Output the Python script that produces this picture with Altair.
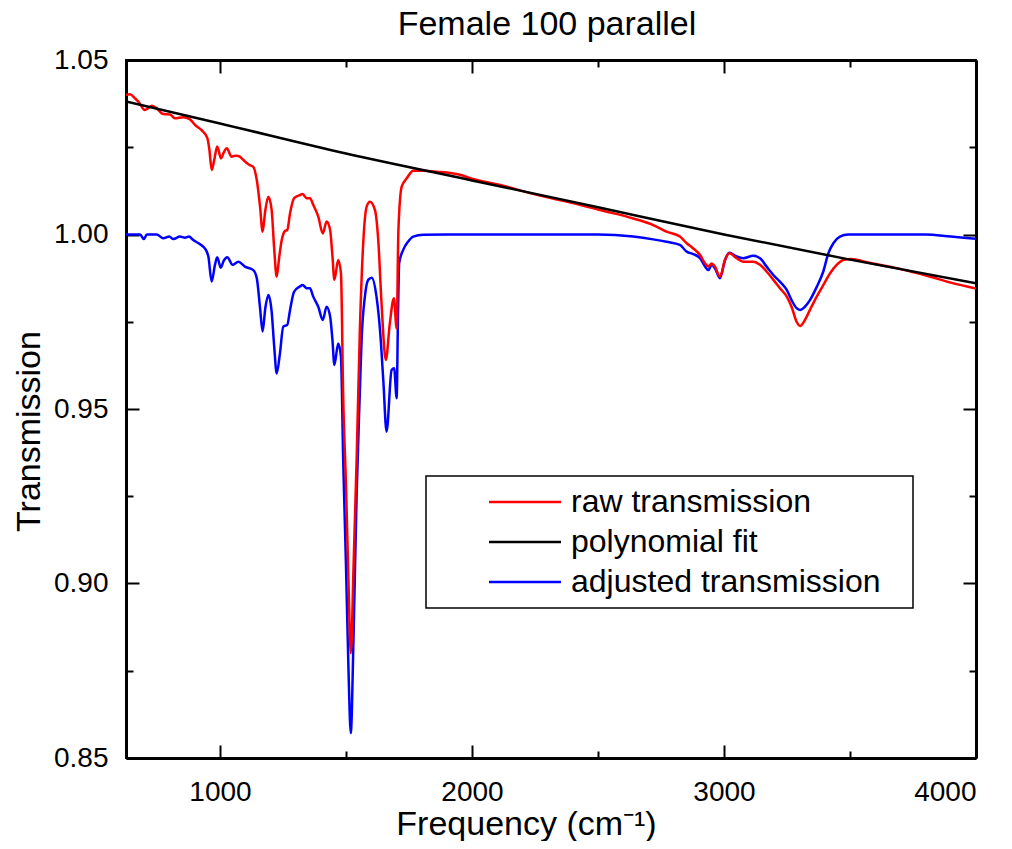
import altair as alt
import pandas as pd

# ---- data ----
raw_freq = [627, 643, 663, 676, 702, 715, 729, 748, 775, 802, 821, 854, 881, 901, 927, 950, 958, 967, 977, 989,
            1004, 1015, 1027, 1046, 1060, 1073, 1099, 1120, 1132, 1146, 1159, 1169, 1180, 1192, 1205, 1215, 1225,
            1235, 1245, 1258, 1267, 1278, 1294, 1317, 1328, 1344, 1357, 1370, 1390, 1408, 1423, 1437, 1446, 1454,
            1469, 1480, 1489, 1500, 1510, 1519, 1530, 1542, 1555, 1569, 1582, 1595, 1615, 1628, 1641, 1658, 1674,
            1690, 1701, 1708, 1721, 1741, 1767, 1807, 1860, 1952, 2000, 2111, 2250, 2400, 2508, 2640, 2719, 2772,
            2825, 2852, 2878, 2905, 2925, 2938, 2951, 2964, 2984, 3004, 3021, 3050, 3077, 3116, 3143, 3169, 3196,
            3222, 3249, 3268, 3288, 3302, 3321, 3341, 3368, 3394, 3421, 3447, 3473, 3506, 3558, 3690, 3819, 3900, 4000]
raw_val = [1.0400, 1.0402, 1.0390, 1.0381, 1.0357, 1.0362, 1.0369, 1.0362, 1.0345, 1.0344, 1.0333, 1.0336, 1.0330,
           1.0314, 1.0299, 1.0276, 1.0242, 1.0185, 1.0213, 1.0252, 1.0218, 1.0235, 1.0247, 1.0223, 1.0226, 1.0225,
           1.0209, 1.0198, 1.0194, 1.0156, 1.0080, 1.0008, 1.0070, 1.0108, 1.0070, 0.9960, 0.9879, 0.9935, 0.9984,
           1.0010, 1.0013, 1.0061, 1.0104, 1.0113, 1.0116, 1.0104, 1.0104, 1.0085, 1.0051, 1.0003, 1.0037, 1.0013,
           0.9940, 0.9870, 0.9927, 0.9889, 0.9530, 0.9280, 0.9000, 0.8800, 0.9050, 0.9350, 0.9726, 0.9984, 1.0080,
           1.0094, 1.0070, 0.9984, 0.9803, 0.9640, 0.9746, 0.9817, 0.9731, 1.0013, 1.0137, 1.0161, 1.0183, 1.0183,
           1.0180, 1.0171, 1.0160, 1.0142, 1.0115, 1.0090, 1.0070, 1.0046, 1.0027, 1.0008, 0.9994, 0.9975, 0.9960,
           0.9941, 0.9917, 0.9908, 0.9917, 0.9908, 0.9879, 0.9927, 0.9946, 0.9932, 0.9922, 0.9922, 0.9913, 0.9894,
           0.9870, 0.9846, 0.9822, 0.9793, 0.9750, 0.9738, 0.9755, 0.9784, 0.9822, 0.9855, 0.9889, 0.9913, 0.9927,
           0.9930, 0.9922, 0.9903, 0.9879, 0.9862, 0.9845]

adj_freq = [627, 683, 698, 710, 749, 775, 799, 815, 841, 861, 877, 894, 921, 944, 954, 967, 980, 989, 1003, 1015,
            1029, 1050, 1073, 1099, 1132, 1146, 1159, 1169, 1180, 1192, 1205, 1215, 1225, 1238, 1251, 1267, 1278,
            1294, 1317, 1328, 1344, 1357, 1370, 1390, 1408, 1423, 1437, 1446, 1454, 1469, 1480, 1489, 1500, 1510,
            1519, 1530, 1542, 1555, 1562, 1575, 1588, 1602, 1621, 1635, 1648, 1661, 1681, 1691, 1701, 1706, 1711,
            1727, 1747, 1767, 1807, 1900, 2500, 2640, 2719, 2772, 2825, 2852, 2878, 2905, 2925, 2938, 2951, 2964,
            2984, 3004, 3021, 3050, 3077, 3116, 3143, 3169, 3196, 3222, 3249, 3268, 3288, 3302, 3321, 3341, 3368,
            3394, 3414, 3434, 3460, 3493, 3800, 3900, 4000]
adj_val = [1.0000, 1.0000, 0.9987, 1.0000, 1.0000, 0.9989, 0.9994, 0.9987, 0.9994, 0.9991, 0.9994, 0.9984, 0.9972,
           0.9956, 0.9936, 0.9865, 0.9913, 0.9935, 0.9905, 0.9925, 0.9935, 0.9913, 0.9922, 0.9908, 0.9898, 0.9875,
           0.9789, 0.9722, 0.9790, 0.9827, 0.9779, 0.9680, 0.9602, 0.9660, 0.9736, 0.9741, 0.9784, 0.9836, 0.9851,
           0.9855, 0.9846, 0.9846, 0.9822, 0.9793, 0.9755, 0.9793, 0.9765, 0.9700, 0.9626, 0.9688, 0.9650, 0.9350,
           0.9050, 0.8750, 0.8571, 0.8850, 0.9250, 0.9550, 0.9700, 0.9822, 0.9870, 0.9876, 0.9822, 0.9726, 0.9583,
           0.9435, 0.9612, 0.9617, 0.9531, 0.9750, 0.9918, 0.9956, 0.9980, 0.9994, 0.9999, 1.0000, 1.0000, 0.9994,
           0.9986, 0.9979, 0.9970, 0.9951, 0.9944, 0.9932, 0.9908, 0.9898, 0.9913, 0.9903, 0.9875, 0.9927, 0.9948,
           0.9937, 0.9932, 0.9939, 0.9932, 0.9908, 0.9884, 0.9865, 0.9841, 0.9812, 0.9789, 0.9784, 0.9793, 0.9812,
           0.9850, 0.9894, 0.9946, 0.9975, 0.9994, 1.0000, 1.0000, 0.9994, 0.9988]

fit_freq = [627, 1000, 1500, 2000, 2500, 3000, 3500, 4000]
fit_val = [1.0381, 1.0318, 1.0232, 1.0155, 1.0078, 1.0000, 0.9928, 0.9860]

series_names = ["raw transmission", "polynomial fit", "adjusted transmission"]
series_colors = ["#ff0000", "#000000", "#0000ff"]

x_major = [1000, 2000, 3000, 4000]
x_minor = [1500, 2500, 3500]
y_major = [0.85, 0.90, 0.95, 1.00, 1.05]
y_minor = [0.875, 0.925, 0.975, 1.025]

rows = []
for f, v in zip(raw_freq, raw_val):
    rows.append({"freq": f, "value": v, "series": series_names[0]})
for f, v in zip(fit_freq, fit_val):
    rows.append({"freq": f, "value": v, "series": series_names[1]})
for f, v in zip(adj_freq, adj_val):
    rows.append({"freq": f, "value": v, "series": series_names[2]})
df = pd.DataFrame(rows)

W, H = 850, 698
FONT = "Liberation Sans"
xs = alt.Scale(domain=[627, 4000], nice=False, zero=False)
ys = alt.Scale(domain=[0.85, 1.05], nice=False, zero=False)

color = alt.Color(
    "series:N",
    scale=alt.Scale(domain=series_names, range=series_colors),
    legend=alt.Legend(
        title="\u00a0", titleOrient="right", titleFontSize=32, titleFont=FONT, titlePadding=23,
        orient="none", legendX=300, legendY=416,
        symbolType="M-3,0H3", symbolSize=576, symbolStrokeWidth=2.5,
        labelFontSize=32, labelFont=FONT, labelColor="black", labelLimit=0,
        strokeColor="black", fillColor="white", padding=10,
        rowPadding=8, labelOffset=30, symbolOffset=73,
    ),
)

x_lab_axis = alt.Axis(orient="bottom", values=x_major, format="d", ticks=False, tickSize=0, domain=False,
                      grid=False, labelFont=FONT, labelFontSize=28, labelColor="black", labelPadding=20,
                      title="Frequency (cm⁻¹)", titleFont=FONT, titleFontSize=34, titleFontWeight="normal",
                      titleColor="black", titlePadding=1, titleX=400)
y_lab_axis = alt.Axis(orient="left", values=y_major, format=".2f", ticks=False, tickSize=0, domain=False,
                      grid=False, labelFont=FONT, labelFontSize=28, labelColor="black", labelPadding=18,
                      title="Transmission", titleFont=FONT, titleFontSize=34, titleFontWeight="normal",
                      titleColor="black", titlePadding=7, titleY=371)


def tick_axis(orient, values, size, offset, with_domain):
    return alt.Axis(orient=orient, values=values, labels=False, ticks=True, tickSize=size, tickWidth=2,
                    tickColor="black", domain=with_domain, domainColor="black", domainWidth=3,
                    grid=False, title=None, offset=offset)


def series_layer(name, with_axes):
    xa = x_lab_axis if with_axes else None
    ya = y_lab_axis if with_axes else None
    return alt.Chart(df).transform_filter(alt.datum.series == name).mark_line(
        strokeWidth=2.5, interpolate="monotone", clip=True
    ).encode(
        x=alt.X("freq:Q", scale=xs, axis=xa),
        y=alt.Y("value:Q", scale=ys, axis=ya),
        color=color,
    )


def axis_layer(xo, yo, xv, yv, size, xoff, yoff, with_domain):
    return alt.Chart(df).transform_filter(alt.datum.series == series_names[1]).mark_point(opacity=0).encode(
        x=alt.X("freq:Q", scale=xs, axis=tick_axis(xo, xv, size, xoff, with_domain)),
        y=alt.Y("value:Q", scale=ys, axis=tick_axis(yo, yv, size, yoff, with_domain)),
    )


blue = series_layer(series_names[2], True)
red = series_layer(series_names[0], False)
black = series_layer(series_names[1], False)

ax1 = axis_layer("top", "right", x_major, y_major, 13, -H, -W, True)
ax2 = axis_layer("bottom", "left", x_major, y_major, 13, -H, -W, True)
ax3 = axis_layer("top", "right", x_minor, y_minor, 7, -H, -W, False)
ax4 = axis_layer("bottom", "left", x_minor, y_minor, 7, -H, -W, False)

chart = alt.layer(blue, red, black, ax1, ax2, ax3, ax4).resolve_axis(
    x="independent", y="independent"
).properties(
    width=W, height=H,
    title=alt.Title("Female 100 parallel", font=FONT, fontSize=34, fontWeight="normal", color="black",
                    anchor="middle", offset=4, dx=-4),
    autosize=alt.AutoSizeParams(type="none"),
    padding={"left": 118, "top": 52, "right": 28, "bottom": 83},
    background="white",
    view=alt.ViewBackground(stroke="black", strokeWidth=2),
).configure_view(stroke="black", strokeWidth=2).configure_legend(strokeWidth=1.5)

chart.save("out.html", embed_options={"renderer": "svg", "actions": False})
